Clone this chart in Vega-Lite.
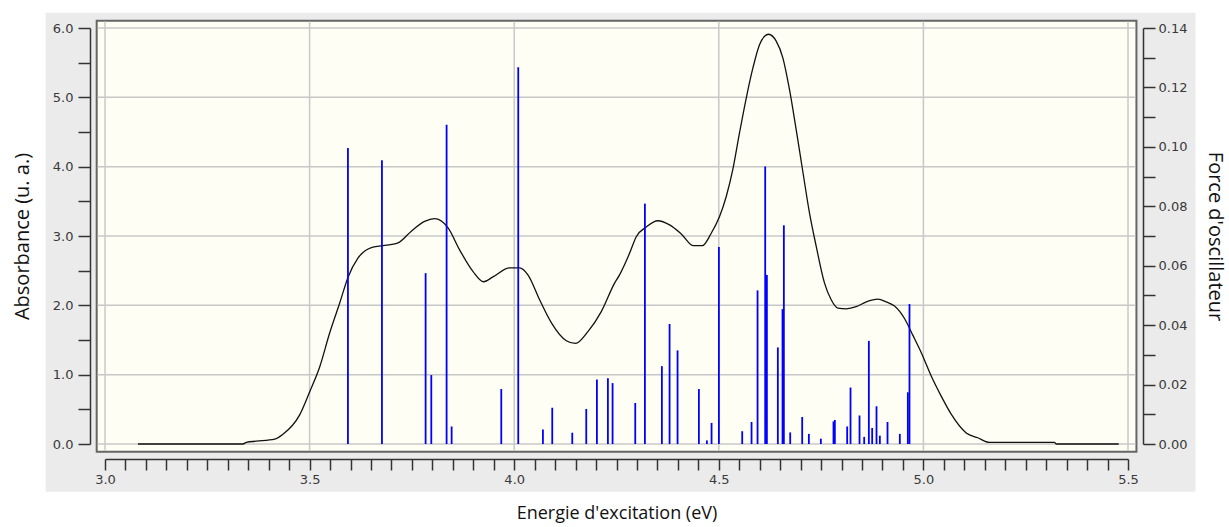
{
  "$schema": "https://vega.github.io/schema/vega-lite/v6.json",
  "width": 1023,
  "height": 416,
  "autosize": {"type": "none"},
  "padding": {"left": 105, "top": 28, "right": 101, "bottom": 83},
  "background": "white",
  "config": {
    "view": {"stroke": null},
    "axis": {
      "grid": false,
      "tickCount": 200,
      "domainColor": "#333333",
      "domainWidth": 1.5,
      "tickColor": "#333333",
      "tickWidth": 1.5,
      "labelFont": "DejaVu Sans",
      "labelFontSize": 13,
      "labelColor": "#3a3a3a",
      "labelOverlap": false,
      "labelFlush": false,
      "titleFont": "Open Sans",
      "titleFontSize": 18,
      "titleFontWeight": "normal",
      "titleColor": "#111111"
    }
  },
  "datasets": {
    "spectrum": [
      {"E": 3.0806, "A": 0}, {"E": 3.3372, "A": 0}, {"E": 3.3455, "A": 0.024}, {"E": 3.3699, "A": 0.04},
      {"E": 3.4146, "A": 0.07}, {"E": 3.4349, "A": 0.14}, {"E": 3.4757, "A": 0.42}, {"E": 3.5, "A": 0.75},
      {"E": 3.5246, "A": 1.11}, {"E": 3.549, "A": 1.6}, {"E": 3.5734, "A": 2.03}, {"E": 3.5942, "A": 2.41},
      {"E": 3.6181, "A": 2.68}, {"E": 3.6548, "A": 2.84}, {"E": 3.6792, "A": 2.86}, {"E": 3.7159, "A": 2.9},
      {"E": 3.7486, "A": 3.07}, {"E": 3.7811, "A": 3.21}, {"E": 3.8055, "A": 3.25}, {"E": 3.838, "A": 3.12},
      {"E": 3.8666, "A": 2.8}, {"E": 3.8991, "A": 2.49}, {"E": 3.9252, "A": 2.34}, {"E": 3.948, "A": 2.41},
      {"E": 3.9888, "A": 2.54}, {"E": 4.0132, "A": 2.54}, {"E": 4.0335, "A": 2.44}, {"E": 4.0621, "A": 2.08},
      {"E": 4.0906, "A": 1.75}, {"E": 4.1273, "A": 1.49}, {"E": 4.15, "A": 1.45}, {"E": 4.1801, "A": 1.62},
      {"E": 4.2128, "A": 1.91}, {"E": 4.2453, "A": 2.32}, {"E": 4.2575, "A": 2.44}, {"E": 4.2819, "A": 2.75},
      {"E": 4.2983, "A": 2.99}, {"E": 4.3227, "A": 3.13}, {"E": 4.3511, "A": 3.22}, {"E": 4.3797, "A": 3.16},
      {"E": 4.4083, "A": 3.03}, {"E": 4.4383, "A": 2.86}, {"E": 4.4596, "A": 2.86}, {"E": 4.4815, "A": 3.04},
      {"E": 4.5018, "A": 3.28}, {"E": 4.5182, "A": 3.57}, {"E": 4.5343, "A": 3.96}, {"E": 4.5507, "A": 4.49},
      {"E": 4.5671, "A": 4.99}, {"E": 4.5832, "A": 5.42}, {"E": 4.5995, "A": 5.76}, {"E": 4.6118, "A": 5.88},
      {"E": 4.6215, "A": 5.91}, {"E": 4.6403, "A": 5.81}, {"E": 4.6565, "A": 5.57}, {"E": 4.6728, "A": 5.11},
      {"E": 4.6892, "A": 4.53}, {"E": 4.7053, "A": 3.93}, {"E": 4.7217, "A": 3.33}, {"E": 4.7381, "A": 2.85},
      {"E": 4.7584, "A": 2.32}, {"E": 4.7747, "A": 2.08}, {"E": 4.7909, "A": 1.96}, {"E": 4.8114, "A": 1.95},
      {"E": 4.8358, "A": 1.98}, {"E": 4.8603, "A": 2.05}, {"E": 4.8886, "A": 2.09}, {"E": 4.9092, "A": 2.05},
      {"E": 4.9294, "A": 1.99}, {"E": 4.9538, "A": 1.81}, {"E": 4.9741, "A": 1.57}, {"E": 4.9946, "A": 1.32},
      {"E": 5.0191, "A": 0.98}, {"E": 5.0435, "A": 0.69}, {"E": 5.0679, "A": 0.43}, {"E": 5.1046, "A": 0.16},
      {"E": 5.1329, "A": 0.09}, {"E": 5.1615, "A": 0.024}, {"E": 5.3203, "A": 0.024}, {"E": 5.3244, "A": 0},
      {"E": 5.4774, "A": 0}
    ],
    "sticks": [
      {"E": 3.5937, "f": 0.0996}, {"E": 3.6768, "f": 0.0955}, {"E": 3.7835, "f": 0.0575}, {"E": 3.7974, "f": 0.0232},
      {"E": 3.8348, "f": 0.1074}, {"E": 3.8471, "f": 0.0059}, {"E": 3.9684, "f": 0.0185}, {"E": 4.0099, "f": 0.1268},
      {"E": 4.0702, "f": 0.0049}, {"E": 4.093, "f": 0.0122}, {"E": 4.1419, "f": 0.0038}, {"E": 4.1761, "f": 0.0118},
      {"E": 4.2021, "f": 0.0217}, {"E": 4.229, "f": 0.0221}, {"E": 4.2404, "f": 0.0205}, {"E": 4.2958, "f": 0.0138},
      {"E": 4.3194, "f": 0.0809}, {"E": 4.3609, "f": 0.0262}, {"E": 4.3797, "f": 0.0404}, {"E": 4.3992, "f": 0.0315},
      {"E": 4.4513, "f": 0.0185}, {"E": 4.4709, "f": 0.0012}, {"E": 4.4823, "f": 0.0071}, {"E": 4.5002, "f": 0.0663},
      {"E": 4.5572, "f": 0.0043}, {"E": 4.58, "f": 0.0074}, {"E": 4.5947, "f": 0.0517}, {"E": 4.6134, "f": 0.0934},
      {"E": 4.6175, "f": 0.0569}, {"E": 4.6443, "f": 0.0325}, {"E": 4.6557, "f": 0.0454}, {"E": 4.659, "f": 0.0736},
      {"E": 4.6745, "f": 0.0039}, {"E": 4.7038, "f": 0.0091}, {"E": 4.7201, "f": 0.0034}, {"E": 4.7494, "f": 0.0018},
      {"E": 4.7803, "f": 0.0076}, {"E": 4.7836, "f": 0.0081}, {"E": 4.8137, "f": 0.0059}, {"E": 4.8219, "f": 0.019},
      {"E": 4.8439, "f": 0.0096}, {"E": 4.8553, "f": 0.0024}, {"E": 4.8667, "f": 0.0347}, {"E": 4.8748, "f": 0.0054},
      {"E": 4.8854, "f": 0.0127}, {"E": 4.8936, "f": 0.0028}, {"E": 4.9123, "f": 0.0074}, {"E": 4.9424, "f": 0.0034},
      {"E": 4.962, "f": 0.0174}, {"E": 4.966, "f": 0.0471}
    ],
    "xgrid": [{"E": 3.0}, {"E": 3.5}, {"E": 4.0}, {"E": 4.5}, {"E": 5.0}, {"E": 5.5}],
    "ygrid": [{"A": 0}, {"A": 1}, {"A": 2}, {"A": 3}, {"A": 4}, {"A": 5}, {"A": 6}]
  },
  "layer": [
    {
      "layer": [
        {
          "data": {"values": [{}]},
          "mark": {"type": "rect", "fill": "#ebebeb", "clip": false},
          "encoding": {
            "x": {"datum": 2.8551, "type": "quantitative", "scale": {"domain": [3, 5.5], "nice": false, "zero": false}},
            "x2": {"datum": 5.6648},
            "y": {"datum": -0.688, "type": "quantitative", "scale": {"domain": [0, 6], "nice": false, "zero": false}},
            "y2": {"datum": 6.221}
          }
        },
        {
          "data": {"values": [{}]},
          "mark": {"type": "rect", "fill": "#fefef5", "stroke": "#666666", "strokeWidth": 2, "clip": false},
          "encoding": {
            "x": {"datum": 2.9797, "type": "quantitative"},
            "x2": {"datum": 5.5206},
            "y": {"datum": -0.111, "type": "quantitative"},
            "y2": {"datum": 6.105}
          }
        },
        {
          "data": {"name": "xgrid"},
          "mark": {"type": "rule", "color": "#c8c8c8", "strokeWidth": 1.5, "clip": false},
          "encoding": {
            "x": {"field": "E", "type": "quantitative"},
            "y": {"datum": -0.1, "type": "quantitative"},
            "y2": {"datum": 6.095}
          }
        },
        {
          "data": {"name": "ygrid"},
          "mark": {"type": "rule", "color": "#c8c8c8", "strokeWidth": 1.5, "clip": false},
          "encoding": {
            "y": {"field": "A", "type": "quantitative"},
            "x": {"datum": 2.982, "type": "quantitative"},
            "x2": {"datum": 5.518}
          }
        },
        {
          "data": {"name": "spectrum"},
          "mark": {"type": "line", "color": "#111111", "strokeWidth": 1.3, "interpolate": "monotone"},
          "encoding": {
            "x": {
              "field": "E",
              "type": "quantitative",
              "axis": {
                "orient": "bottom",
                "zindex": 2,
                "title": "Energie d'excitation (eV)",
                "offset": 15,
                "values": [3.0, 3.05, 3.1, 3.15, 3.2, 3.25, 3.3, 3.35, 3.4, 3.45, 3.5, 3.55, 3.6, 3.65, 3.7, 3.75, 3.8, 3.85, 3.9, 3.95, 4.0, 4.05, 4.1, 4.15, 4.2, 4.25, 4.3, 4.35, 4.4, 4.45, 4.5, 4.55, 4.6, 4.65, 4.7, 4.75, 4.8, 4.85, 4.9, 4.95, 5.0, 5.05, 5.1, 5.15, 5.2, 5.25, 5.3, 5.35, 5.4, 5.45, 5.5],
                "tickSize": 11,
                "encode": {
                  "ticks": {
                    "update": {
                      "y": {"value": 0},
                      "y2": {"signal": "abs(datum.value * 2 - round(datum.value * 2)) < 0.001 ? 11 : 6"}
                    }
                  }
                },
                "labelExpr": "abs(datum.value * 2 - round(datum.value * 2)) < 0.001 ? format(datum.value, '.1f') : ''",
                "labelPadding": 3,
                "titlePadding": 18
              }
            },
            "y": {
              "field": "A",
              "type": "quantitative",
              "axis": {
                "orient": "left",
                "zindex": 2,
                "title": "Absorbance (u. a.)",
                "titleFontSize": 20,
                "offset": 15,
                "values": [0, 0.5, 1, 1.5, 2, 2.5, 3, 3.5, 4, 4.5, 5, 5.5, 6],
                "tickSize": 12,
                "encode": {
                  "ticks": {
                    "update": {
                      "x": {"value": 0},
                      "x2": {"signal": "abs(datum.value - round(datum.value)) < 0.001 ? -12 : -8"}
                    }
                  }
                },
                "labelExpr": "abs(datum.value - round(datum.value)) < 0.001 ? format(datum.value, '.1f') : ''",
                "labelPadding": 5,
                "titlePadding": 20
              }
            }
          }
        }
      ]
    },
    {
      "data": {"name": "sticks"},
      "mark": {"type": "rule", "color": "#0000ff", "strokeWidth": 1.8},
      "encoding": {
        "x": {"field": "E", "type": "quantitative"},
        "y": {
          "field": "f",
          "type": "quantitative",
          "scale": {"domain": [0, 0.14], "nice": false, "zero": false},
          "axis": {
            "orient": "right",
            "zindex": 2,
            "title": "Force d'oscillateur",
            "titleFontSize": 20,
            "offset": 15,
            "values": [0, 0.01, 0.02, 0.03, 0.04, 0.05, 0.06, 0.07, 0.08, 0.09, 0.1, 0.11, 0.12, 0.13, 0.14],
            "tickSize": 12,
            "encode": {
              "ticks": {
                "update": {
                  "x": {"value": 0},
                  "x2": {"signal": "round(datum.value * 100) % 2 === 0 ? 12 : 7"}
                }
              }
            },
            "labelExpr": "round(datum.value * 100) % 2 === 0 ? format(datum.value, '.2f') : ''",
            "labelPadding": 3,
            "titlePadding": 18
          }
        },
        "y2": {"datum": 0}
      }
    }
  ],
  "resolve": {"scale": {"y": "independent"}, "axis": {"y": "independent"}}
}
